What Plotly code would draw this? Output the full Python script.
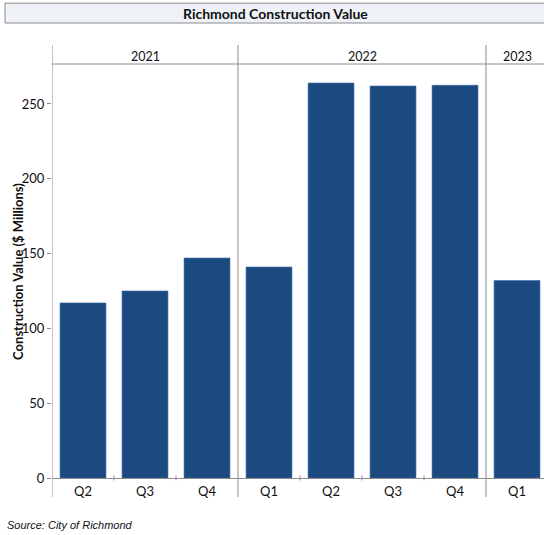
import plotly.graph_objects as go

# Quarterly construction value, City of Richmond ($ millions)
categories = ["2021 Q2", "2021 Q3", "2021 Q4", "2022 Q1", "2022 Q2", "2022 Q3", "2022 Q4", "2023 Q1"]
quarter_labels = ["Q2", "Q3", "Q4", "Q1", "Q2", "Q3", "Q4", "Q1"]
values = [117, 125, 147, 141, 264, 262, 262.5, 132]
years = ["2021", "2022", "2023"]
year_centers = [1, 4.5, 7]          # category index at the middle of each year group
year_bounds = [-0.5, 2.5, 6.5]      # category index of each year's left divider
y_ticks = [0, 50, 100, 150, 200, 250]

FONT = "Lato, 'Open Sans', sans-serif"
TEXT = "#111111"
BAR = "#1a4a7f"
GRID = "#8c8c8c"

fig = go.Figure(
    go.Bar(
        x=categories,
        y=values,
        width=0.74,
        marker=dict(color=BAR, line=dict(color="#3a6aa3", width=0.6)),
    )
)

shapes = []
# title box
shapes.append(dict(type="rect", xref="paper", yref="paper",
                   x0=-0.0955, x1=1.02, y0=1.099, y1=1.147,
                   fillcolor="#eef1f6", line=dict(color="#8a8a8a", width=1), layer="below"))
# year dividers
for b in year_bounds:
    shapes.append(dict(type="line", xref="x", yref="paper", x0=b, x1=b,
                       y0=-0.046, y1=1.046, line=dict(color=GRID, width=1)))
# year header rule
shapes.append(dict(type="line", xref="paper", yref="paper", x0=0, x1=1,
                   y0=1.0, y1=1.0, line=dict(color=GRID, width=1)))
# small ticks on the baseline between quarters
for i in range(len(categories) - 1):
    b = i + 0.5
    if b in year_bounds:
        continue
    shapes.append(dict(type="line", xref="x", yref="paper", x0=b, x1=b,
                       y0=-0.006, y1=0.006, line=dict(color=GRID, width=1)))

annotations = [
    dict(text="<b>Richmond Construction Value</b>", xref="paper", yref="paper",
         x=0.455, y=1.122, showarrow=False, xanchor="center", yanchor="middle",
         font=dict(family=FONT, size=14, color=TEXT)),
    dict(text="<b>Construction Value ($ Millions)</b>", xref="paper", yref="paper",
         x=-0.069, y=0.498, textangle=-90, showarrow=False,
         xanchor="center", yanchor="middle",
         font=dict(family=FONT, size=13, color=TEXT)),
    dict(text="Source: City of Richmond", xref="paper", yref="paper",
         x=-0.0955, y=-0.113, showarrow=False, xanchor="left", yanchor="middle",
         font=dict(family="Liberation Sans, Arial", size=11, color=TEXT, style="italic")),
]
for yr, c in zip(years, year_centers):
    annotations.append(dict(text=yr, xref="x", yref="paper", x=c, y=1.017,
                            showarrow=False, xanchor="center", yanchor="middle",
                            font=dict(family=FONT, size=12.5, color=TEXT)))

fig.update_layout(
    width=544, height=535,
    margin=dict(l=52, r=0, t=64, b=57),
    paper_bgcolor="white", plot_bgcolor="white",
    showlegend=False,
    bargap=0.26,
    shapes=shapes,
    annotations=annotations,
    xaxis=dict(
        type="category",
        range=[-0.5, 7.435],
        tickvals=categories, ticktext=quarter_labels,
        showgrid=False, zeroline=False, showline=False,
        ticks="", tickfont=dict(family=FONT, size=13, color=TEXT),
        ticklabelstandoff=4,
    ),
    yaxis=dict(
        range=[0, 276.7],
        tickvals=y_ticks,
        showgrid=False, zeroline=True, zerolinecolor=GRID, zerolinewidth=1,
        showline=False,
        ticks="outside", ticklen=4, tickcolor=GRID,
        tickfont=dict(family=FONT, size=13, color=TEXT),
    ),
)

fig.write_html("out.html")
